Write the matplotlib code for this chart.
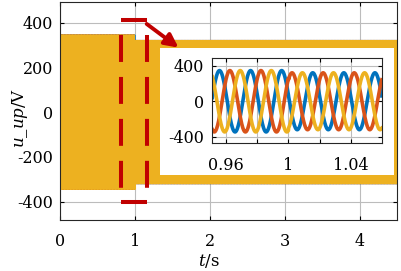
import matplotlib
matplotlib.use("Agg")
import matplotlib.pyplot as plt
import numpy as np
from matplotlib.patches import Rectangle

plt.rcParams['font.family'] = 'DejaVu Serif'
plt.rcParams['mathtext.fontset'] = 'dejavuserif'
plt.rcParams['lines.scale_dashes'] = False

# signal: 50 Hz three-phase voltage, amplitude drops at t = 1 s
freq = 50.0
t_end = 4.5
t_step = 1.0
amp_before = 345.0
amp_after = 320.0
phases_deg = [79.0, -41.0, -161.0]          # blue, orange, yellow
colors = ['#0072BD', '#D95319', '#EDB120']

# main axes
x_ticks = [0, 1, 2, 3, 4]
y_ticks = [-400, -200, 0, 200, 400]
x_lim = (0, 4.5)
y_lim = (-480, 492)

# inset
ins_x_lim = (0.951, 1.06)
ins_x_ticks = [0.96, 0.98, 1.00, 1.02, 1.04]
ins_x_labels = ['0.96', '', '1', '', '1.04']
ins_y_ticks = [-400, 0, 400]
ins_y_labels = ['-400', '0', '400']

# zoom marker (red dashed box) and arrow
box_x = [0.815, 1.165]
box_y = [-400, 412]
arrow_from = (1.156, 394)
arrow_to = (1.58, 288)
white_box = (1.333, -281, 3.12, 568)   # x, y, w, h in data units

red = '#C00000'
grid_c = '#bcbcbc'


def phase_wave(t, ph):
    amp = np.where(t < t_step, amp_before, amp_after)
    return amp * np.cos(2 * np.pi * freq * t + np.deg2rad(ph))


fig = plt.figure(figsize=(4.01, 2.71), dpi=100)
ax = fig.add_axes([0.1496, 0.190, 0.8416, 0.8026])

t = np.linspace(0, t_end, 45001)
for ph, c in zip(phases_deg, colors):
    ax.plot(t, phase_wave(t, ph), color=c, lw=1.0)

ax.set_xlim(*x_lim)
ax.set_ylim(*y_lim)
ax.set_xticks(x_ticks)
ax.set_yticks(y_ticks)
ax.set_xticklabels([str(v) for v in x_ticks])
ax.set_yticklabels([str(v) for v in y_ticks])
ax.grid(True, color=grid_c, lw=0.8)
ax.set_axisbelow(True)
ax.tick_params(direction='in', top=True, right=True, length=3, width=0.8,
               labelsize=11.5)
ax.tick_params(axis='x', pad=10)
ax.tick_params(axis='y', pad=5)
for s in ax.spines.values():
    s.set_linewidth(0.8)
    s.set_color('#262626')

ax.set_xlabel(r'$t$/s', fontsize=12)
ax.set_ylabel(r'$u\_up$/V', fontsize=12)
ax.xaxis.set_label_coords(0.44, -0.15)
ax.yaxis.set_label_coords(-0.088, 0.465)

# red dashed zoom box
dash = (19.4, (19.4, 10.8))
for xv in box_x:
    ax.plot([xv, xv], [box_y[1], box_y[0]], color=red, lw=2.9,
            linestyle=dash, zorder=6)
for yv in box_y:
    ax.plot(box_x, [yv, yv], color=red, lw=2.9, zorder=6, solid_capstyle='butt')

# white panel behind the inset
ax.add_patch(Rectangle(white_box[:2], white_box[2], white_box[3],
                       facecolor='white', edgecolor='none', zorder=5))

ax.annotate('', xy=arrow_to, xytext=arrow_from,
            arrowprops=dict(arrowstyle='-|>', color=red, lw=2.8,
                            mutation_scale=20, shrinkA=0, shrinkB=0),
            zorder=7)

# inset
axi = fig.add_axes([0.5295, 0.4705, 0.4225, 0.3173])
ti = np.linspace(ins_x_lim[0], ins_x_lim[1], 2000)
for ph, c in zip(phases_deg, colors):
    axi.plot(ti, phase_wave(ti, ph), color=c, lw=2.6)
axi.set_xlim(*ins_x_lim)
axi.set_ylim(-475, 492)
axi.set_xticks(ins_x_ticks)
axi.set_xticklabels(ins_x_labels)
axi.set_yticks(ins_y_ticks)
axi.set_yticklabels(ins_y_labels)
axi.grid(True, color=grid_c, lw=0.8)
axi.set_axisbelow(True)
axi.tick_params(direction='in', top=True, right=True, length=3, width=0.8,
                labelsize=11.5)
axi.tick_params(axis='x', pad=10)
axi.tick_params(axis='y', pad=6)
for s in axi.spines.values():
    s.set_linewidth(0.8)
    s.set_color('#262626')

fig.savefig('out.png', dpi=100)
